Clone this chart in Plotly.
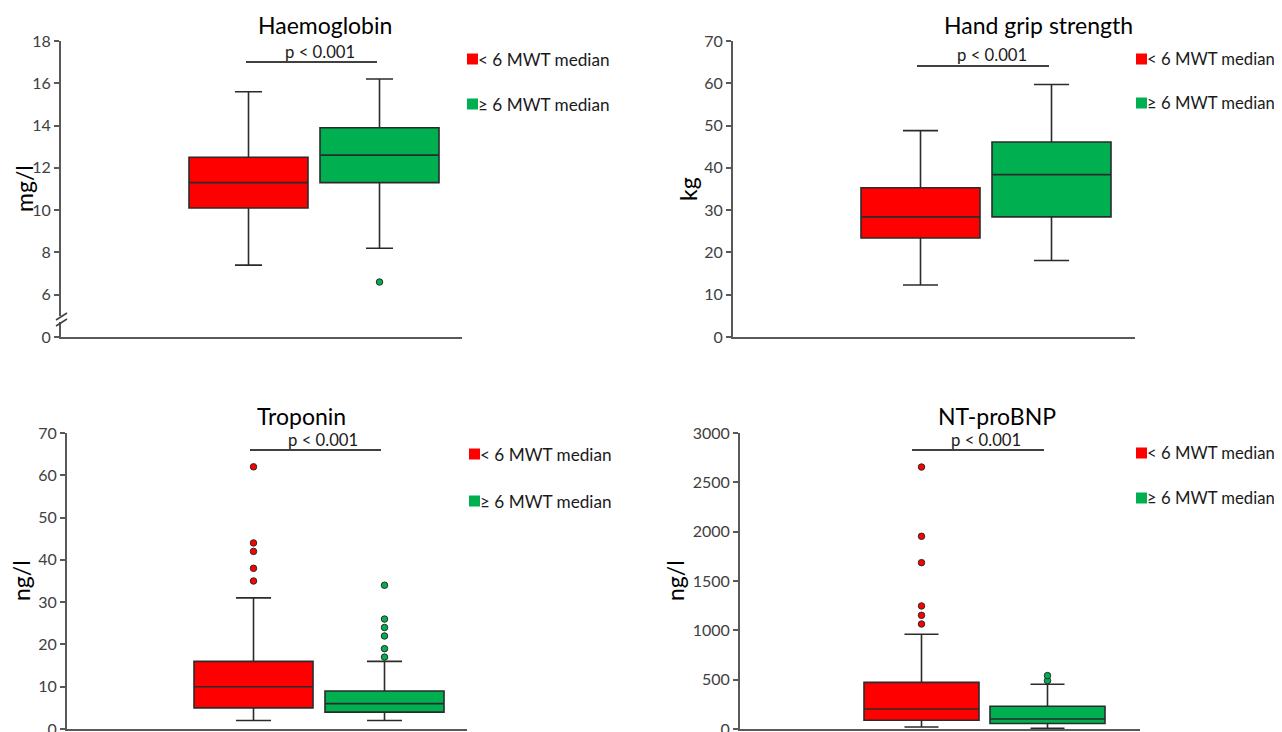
import plotly.graph_objects as go

W, H = 1282, 732
OFF = 8  # page body margin in the browser; positions below are screen pixels

# ---------------- data ----------------
groups = ["< 6 MWT median", "≥ 6 MWT median"]
colors = ["#FF0000", "#00B050"]

hb_low = [7.4, 8.2]
hb_q1 = [10.1, 11.3]
hb_med = [11.3, 12.6]
hb_q3 = [12.5, 13.9]
hb_high = [15.6, 16.2]
hb_out = [[], [6.6]]

hg_low = [12.3, 18.1]
hg_q1 = [23.4, 28.4]
hg_med = [28.4, 38.4]
hg_q3 = [35.3, 46.1]
hg_high = [48.8, 59.7]
hg_out = [[], []]

tn_low = [2, 2]
tn_q1 = [5, 4]
tn_med = [10, 6]
tn_q3 = [16, 9]
tn_high = [31, 16]
tn_out = [[35, 38, 42, 44, 62], [17, 19, 22, 24, 26, 34]]

bnp_low = [20, 8]
bnp_q1 = [88, 55]
bnp_med = [203, 101]
bnp_q3 = [473, 230]
bnp_high = [960, 453]
bnp_out = [[1064, 1152, 1247, 1686, 1953, 2655], [490, 541]]

titles = ["Haemoglobin", "Hand grip strength", "Troponin", "NT-proBNP"]
units = ["mg/l", "kg", "ng/l", "ng/l"]
p_text = "p < 0.001"

hb_tickvals = [4, 6, 8, 10, 12, 14, 16, 18]
hb_ticktext = ["0", "6", "8", "10", "12", "14", "16", "18"]

FONT = "Lato, Carlito, Calibri, sans-serif"


def px(x):
    return (x - OFF) / W


def py(y):
    return 1 - (y - OFF) / H


# panel geometry (pixels): axis x0, x1, y_top, y_bottom, red centre, green centre, box width, cap width
panels = [
    dict(x0=61, x1=462, yt=41, yb=337, cr=248.5, cg=379.5, bw=119, cap=27),
    dict(x0=733, x1=1135, yt=41, yb=337, cr=920.5, cg=1051.5, bw=119, cap=35),
    dict(x0=67, x1=467, yt=433, yb=729, cr=253.5, cg=384.5, bw=119, cap=35),
    dict(x0=740, x1=1140, yt=433, yb=729, cr=921.5, cg=1047.5, bw=115, cap=34),
]

stats = [
    (hb_low, hb_q1, hb_med, hb_q3, hb_high, hb_out),
    (hg_low, hg_q1, hg_med, hg_q3, hg_high, hg_out),
    (tn_low, tn_q1, tn_med, tn_q3, tn_high, tn_out),
    (bnp_low, bnp_q1, bnp_med, bnp_q3, bnp_high, bnp_out),
]

yranges = [[4, 18], [0, 70], [0, 70], [0, 3000]]
ydticks = [None, 10, 10, 500]

fig = go.Figure()
layout = dict(
    width=W, height=H, margin=dict(l=0, r=0, t=0, b=0, pad=0, autoexpand=False),
    plot_bgcolor="white", paper_bgcolor="white", showlegend=False,
    font=dict(family=FONT, size=16, color="#404040"),
)
annotations = []
shapes = []

for i, (p, st) in enumerate(zip(panels, stats)):
    n = i + 1
    xa = "x" if n == 1 else f"x{n}"
    ya = "y" if n == 1 else f"y{n}"
    unit = p["cg"] - p["cr"]
    r0 = -(p["cr"] - p["x0"]) / unit
    r1 = r0 + (p["x1"] - p["x0"]) / unit
    low, q1, med, q3, high, outs = st
    for g in range(2):
        fig.add_trace(go.Box(
            x=[groups[g]], q1=[q1[g]], median=[med[g]], q3=[q3[g]],
            lowerfence=[low[g]], upperfence=[high[g]],
            fillcolor=colors[g], line=dict(color="#2b2b2b", width=1.6),
            width=p["bw"] / unit, whiskerwidth=p["cap"] / p["bw"],
            boxpoints=False, xaxis=xa, yaxis=ya, hoverinfo="skip",
        ))
        if outs[g]:
            fig.add_trace(go.Scatter(
                x=[groups[g]] * len(outs[g]), y=outs[g], mode="markers",
                marker=dict(color=colors[g], size=6.5, line=dict(color="#2b2b2b", width=1)),
                xaxis=xa, yaxis=ya, hoverinfo="skip",
            ))
    xkey = "xaxis" if n == 1 else f"xaxis{n}"
    ykey = "yaxis" if n == 1 else f"yaxis{n}"
    layout[xkey] = dict(
        domain=[px(p["x0"]), px(p["x1"])], anchor=ya, type="category",
        categoryorder="array", categoryarray=groups, range=[r0, r1],
        showline=True, linecolor="#595959", linewidth=2, showticklabels=False,
        ticks="", showgrid=False, zeroline=False, fixedrange=True, automargin=False,
    )
    yax = dict(
        domain=[py(p["yb"]), py(p["yt"])], anchor=xa, range=yranges[i],
        showline=True, linecolor="#595959", linewidth=2, ticks="outside",
        ticklen=5, tickwidth=1.5, tickcolor="#595959", showgrid=False,
        zeroline=False, tickfont=dict(size=16, color="#404040"), fixedrange=True,
        automargin=False,
    )
    if i == 0:
        yax.update(tickmode="array", tickvals=hb_tickvals, ticktext=hb_ticktext)
    else:
        yax.update(dtick=ydticks[i], tick0=0)
    layout[ykey] = yax

# titles, p values, axis titles
title_pos = [(325, 25), (1038, 25), (301, 416), (997, 416)]
p_pos = [(320, 52), (992, 55), (323, 440), (986, 440)]
pline = [(246, 377, 62), (917, 1049, 66), (250, 381, 450), (912, 1044, 450)]
ytitle_pos = [(24, 189), (688, 189), (21, 581), (675, 581)]
legend_pos = [(467, 59, 104), (1136, 59, 103), (469, 454, 501), (1136, 453, 498)]
legend_font = [17.2, 16.7, 17.2, 16.7]

for i in range(4):
    tx, ty = title_pos[i]
    annotations.append(dict(x=px(tx), y=py(ty), xref="paper", yref="paper", text=titles[i],
                            showarrow=False, xanchor="center", yanchor="middle",
                            font=dict(size=23, color="#000000", family=FONT)))
    qx, qy = p_pos[i]
    annotations.append(dict(x=px(qx), y=py(qy), xref="paper", yref="paper", text=p_text,
                            showarrow=False, xanchor="center", yanchor="middle",
                            font=dict(size=16.7, color="#1a1a1a", family=FONT)))
    a, b, c = pline[i]
    shapes.append(dict(type="line", xref="paper", yref="paper", x0=px(a), x1=px(b),
                       y0=py(c), y1=py(c), line=dict(color="#404040", width=2)))
    ax_, ay_ = ytitle_pos[i]
    annotations.append(dict(x=px(ax_), y=py(ay_), xref="paper", yref="paper", text=units[i],
                            showarrow=False, xanchor="center", yanchor="middle", textangle=-90,
                            font=dict(size=23, color="#000000", family=FONT)))
    lx, ly1, ly2 = legend_pos[i]
    for g, ly in enumerate([ly1, ly2]):
        shapes.append(dict(type="rect", xref="paper", yref="paper", x0=px(lx), x1=px(lx + 11),
                           y0=py(ly + 5.5), y1=py(ly - 5.5), fillcolor=colors[g],
                           line=dict(width=0)))
        annotations.append(dict(x=px(lx + 10), y=py(ly), xref="paper", yref="paper",
                                text=groups[g], showarrow=False, xanchor="left",
                                yanchor="middle", borderpad=0,
                                font=dict(size=legend_font[i], color="#1a1a1a", family=FONT)))

# axis break on haemoglobin axis
shapes.append(dict(type="rect", xref="paper", yref="paper", x0=px(58), x1=px(64),
                   y0=py(322), y1=py(316), fillcolor="white", line=dict(width=0), layer="above"))
shapes.append(dict(type="line", xref="paper", yref="paper", x0=px(56), x1=px(67),
                   y0=py(320), y1=py(313), line=dict(color="#404040", width=1.5), layer="above"))
shapes.append(dict(type="line", xref="paper", yref="paper", x0=px(56), x1=px(67),
                   y0=py(326), y1=py(319), line=dict(color="#404040", width=1.5), layer="above"))

layout["annotations"] = annotations
layout["shapes"] = shapes
fig.update_layout(**layout)
fig.write_html("out.html")
